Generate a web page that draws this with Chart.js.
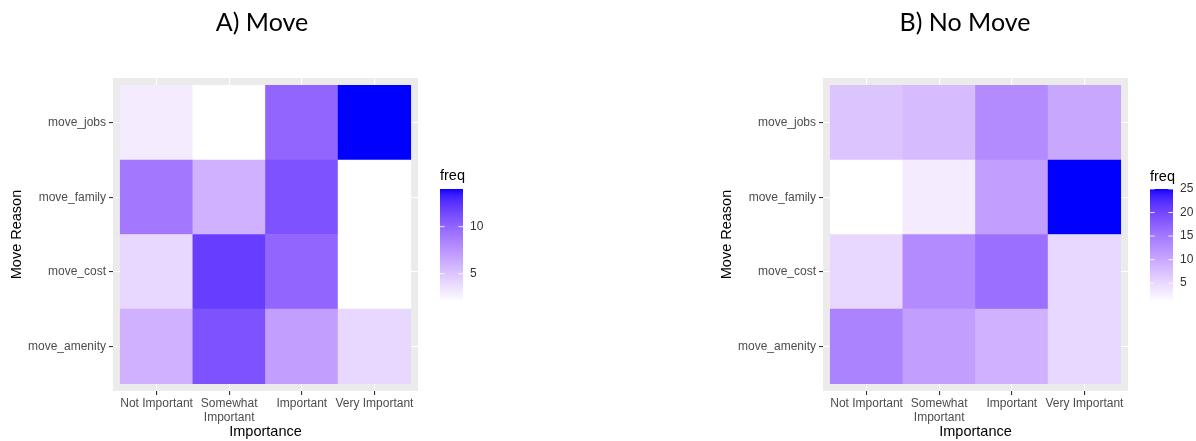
<!DOCTYPE html>
<html>
<head>
<meta charset="utf-8">
<script src="https://cdn.jsdelivr.net/npm/chart.js@4.4.1/dist/chart.umd.min.js"></script>
<style>
  html, body { margin: 0; padding: 0; background: #ffffff; }
  body { width: 1196px; height: 441px; position: relative; overflow: hidden; }
  canvas { position: absolute; top: 0; }
  #cA { left: 0; }
  #cB { left: 710px; }
</style>
</head>
<body>
<canvas id="cA" width="600" height="441"></canvas>
<canvas id="cB" width="486" height="441"></canvas>
<script>
// ---- Data ----
const importance = ["Not Important", ["Somewhat", "Important"], "Important", "Very Important"];
const reasons = ["move_amenity", "move_cost", "move_family", "move_jobs"]; // bottom -> top

// Panel A) Move : rows follow `reasons`, columns follow `importance`
const moveAmenity = [6, 11, 7, 4];
const moveCost    = [4, 12, 10, 2];
const moveFamily  = [9, 6, 11, 2];
const moveJobs    = [3, 2, 10, 14];

// Panel B) No Move
const noMoveAmenity = [14, 11, 9, 5];
const noMoveCost    = [5, 13, 16, 5];
const noMoveFamily  = [1, 3, 11, 25];
const noMoveJobs    = [7, 8, 13, 10];

const legendBreaksA = [5, 10];
const legendBreaksB = [5, 10, 15, 20, 25];

// ---- Colour scale (white -> blue, interpolated in CIE Lab like ggplot) ----
function srgbToLin(c){ c/=255; return c<=0.04045? c/12.92 : Math.pow((c+0.055)/1.055,2.4); }
function linToSrgb(c){ c = c<=0.0031308? 12.92*c : 1.055*Math.pow(c,1/2.4)-0.055; return Math.max(0,Math.min(255,Math.round(c*255))); }
function rgbToLab(r,g,b){
  const R=srgbToLin(r),G=srgbToLin(g),B=srgbToLin(b);
  let X=(0.4124*R+0.3576*G+0.1805*B)/0.95047, Y=(0.2126*R+0.7152*G+0.0722*B), Z=(0.0193*R+0.1192*G+0.9505*B)/1.08883;
  const f=t=> t>0.008856? Math.cbrt(t) : 7.787*t+16/116;
  const fx=f(X),fy=f(Y),fz=f(Z);
  return [116*fy-16, 500*(fx-fy), 200*(fy-fz)];
}
function labToRgb(L,a,b){
  const fy=(L+16)/116, fx=fy+a/500, fz=fy-b/200;
  const inv=t=>{ const t3=t*t*t; return t3>0.008856? t3 : (t-16/116)/7.787; };
  const X=0.95047*inv(fx), Y=inv(fy), Z=1.08883*inv(fz);
  const R= 3.2406*X-1.5372*Y-0.4986*Z;
  const G=-0.9689*X+1.8758*Y+0.0415*Z;
  const B= 0.0557*X-0.2040*Y+1.0570*Z;
  return `rgb(${linToSrgb(Math.max(0,R))},${linToSrgb(Math.max(0,G))},${linToSrgb(Math.max(0,B))})`;
}
const LOW = rgbToLab(255,255,255), HIGH = rgbToLab(0,0,255);
function colourFor(v, min, max){
  const t = Math.max(0, Math.min(1, (v-min)/(max-min)));
  return labToRgb(LOW[0]+(HIGH[0]-LOW[0])*t, LOW[1]+(HIGH[1]-LOW[1])*t, LOW[2]+(HIGH[2]-LOW[2])*t);
}

// ---- Plugins ----
const panelBg = {
  id: 'panelBg',
  beforeDraw(chart){
    const {ctx, chartArea:{left,top,right,bottom}} = chart;
    ctx.save(); ctx.fillStyle = '#EBEBEB'; ctx.fillRect(left, top, right-left, bottom-top); ctx.restore();
  }
};
const extras = {
  id: 'extras',
  afterDraw(chart, args, opts){
    const ctx = chart.ctx;
    ctx.save();
    // main title
    ctx.fillStyle = '#000'; ctx.font = '25px Lato'; ctx.textAlign = 'center'; ctx.textBaseline = 'middle';
    ctx.fillText(opts.title, opts.titleX, 23);
    // colour bar
    const x = 440, w = 23, top = 189, h = 113;
    for (let i = 0; i < h; i++){
      const v = opts.max - (opts.max-opts.min) * (i+0.5)/h;
      ctx.fillStyle = colourFor(v, opts.min, opts.max);
      ctx.fillRect(x, top+i, w, 1.2);
    }
    ctx.font = '14.5px "Liberation Sans"'; ctx.textAlign = 'left'; ctx.fillStyle = '#000';
    ctx.fillText('freq', x, opts.legendTitleY);
    ctx.font = '12px "Liberation Sans"'; ctx.fillStyle = '#333';
    opts.breaks.forEach(b => {
      const y = top + h - (b-opts.min)/(opts.max-opts.min)*h;
      ctx.strokeStyle = 'rgba(255,255,255,0.85)'; ctx.lineWidth = 1;
      ctx.beginPath(); ctx.moveTo(x, y); ctx.lineTo(x+4.6, y); ctx.moveTo(x+w-4.6, y); ctx.lineTo(x+w, y); ctx.stroke();
      ctx.fillText(String(b), 470, y);
    });
    ctx.restore();
  }
};

function makeHeatmap(canvasId, rows, min, max, title, titleX, breaks, legendTitleY){
  const canvas = document.getElementById(canvasId);
  const W = canvas.width;
  const datasets = rows.map((vals, r) => ({
    label: reasons[r],
    data: vals.map((v, c) => ({ x: c+1, y: [r+0.5, r+1.5], v })),
    backgroundColor: vals.map(v => colourFor(v, min, max)),
    borderWidth: 0,
    barPercentage: 1,
    categoryPercentage: 1,
    grouped: false
  }));
  const tickFont = { family: 'Liberation Sans', size: 12 };
  const titleFont = { family: 'Liberation Sans', size: 14.5 };
  return new Chart(canvas, {
    type: 'bar',
    data: { datasets },
    plugins: [panelBg, extras],
    options: {
      responsive: false,
      animation: false,
      devicePixelRatio: 1,
      layout: { padding: { left: 8, right: W - 418, top: 78, bottom: 0 } },
      plugins: {
        legend: { display: false },
        tooltip: { enabled: false },
        extras: { title, titleX, min, max, breaks, legendTitleY }
      },
      scales: {
        x: {
          type: 'linear', min: 0.4, max: 4.6, offset: false,
          afterBuildTicks: s => { s.ticks = [1,2,3,4].map(v => ({ value: v })); },
          afterFit: s => { s.height = 50; },
          ticks: { callback: v => importance[v-1], font: tickFont, color: '#4D4D4D', padding: 1, maxRotation: 0, autoSkip: false },
          grid: { color: '#FFFFFF', lineWidth: 1.1, tickColor: '#333333', tickLength: 4, offset: false },
          border: { display: false },
          title: { display: true, text: 'Importance', font: titleFont, color: '#000', padding: { top: 0, bottom: 0 } }
        },
        y: {
          type: 'linear', min: 0.4, max: 4.6, offset: false,
          afterBuildTicks: s => { s.ticks = [1,2,3,4].map(v => ({ value: v })); },
          afterFit: s => { s.width = 105; },
          ticks: { callback: v => reasons[v-1], font: tickFont, color: '#4D4D4D', padding: 3, autoSkip: false },
          grid: { color: '#FFFFFF', lineWidth: 1.1, tickColor: '#333333', tickLength: 4 },
          border: { display: false },
          title: { display: true, text: 'Move Reason', font: titleFont, color: '#000', padding: { top: 0, bottom: 0 } }
        }
      }
    }
  });
}

makeHeatmap('cA', [moveAmenity, moveCost, moveFamily, moveJobs], 2, 14, 'A) Move', 262, legendBreaksA, 176);
makeHeatmap('cB', [noMoveAmenity, noMoveCost, noMoveFamily, noMoveJobs], 1, 25, 'B) No Move', 255, legendBreaksB, 177);
</script>
</body>
</html>
